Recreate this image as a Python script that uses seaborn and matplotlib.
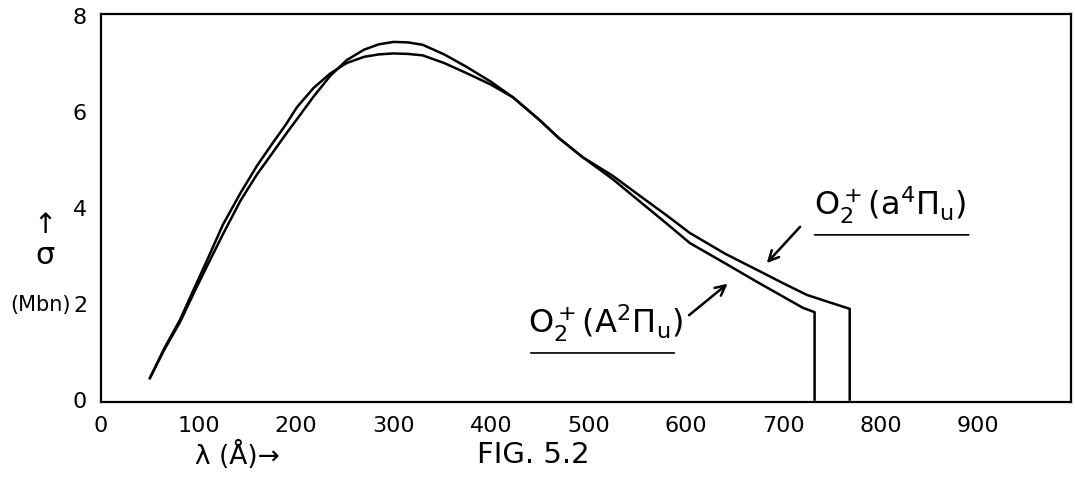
import numpy as np
import pandas as pd
import matplotlib
matplotlib.use("Agg")
import matplotlib.pyplot as plt
import seaborn as sns

# Data (wavelength in Angstrom, cross section in Mb)
lam_a4 = [50, 65, 81, 95, 109, 125, 143, 160, 176, 190, 201, 218, 235, 252, 270, 285, 300, 315,
          330, 352, 375, 400, 423, 450, 470, 494, 525, 553, 580, 604, 640, 673, 700, 724, 748, 768, 768]
sig_a4 = [0.45, 1.05, 1.62, 2.22, 2.80, 3.45, 4.15, 4.70, 5.15, 5.55, 5.85, 6.32, 6.75, 7.08, 7.30, 7.41, 7.46, 7.45,
          7.40, 7.20, 6.94, 6.63, 6.30, 5.83, 5.45, 5.06, 4.67, 4.25, 3.85, 3.48, 3.05, 2.71, 2.43, 2.19, 2.03, 1.90, 0.0]

lam_A2 = [50, 65, 81, 95, 109, 125, 143, 160, 176, 190, 201, 218, 235, 252, 270, 285, 300, 315,
          330, 352, 375, 400, 423, 450, 470, 494, 525, 553, 580, 604, 640, 673, 700, 720, 732, 732]
sig_A2 = [0.45, 1.08, 1.67, 2.30, 2.92, 3.65, 4.31, 4.88, 5.35, 5.75, 6.10, 6.50, 6.80, 7.02, 7.15, 7.20, 7.22, 7.21,
          7.18, 7.02, 6.81, 6.57, 6.30, 5.83, 5.45, 5.06, 4.60, 4.13, 3.68, 3.27, 2.85, 2.46, 2.15, 1.92, 1.83, 0.0]

x_ticks = [0, 100, 200, 300, 400, 500, 600, 700, 800, 900]
y_ticks = [0, 2, 4, 6, 8]

label_a4 = r"$\mathrm{O}_2^+\mathrm{(a^4\Pi_u)}$"
label_A2 = r"$\mathrm{O}_2^+\mathrm{(A^2\Pi_u)}$"

df = pd.concat([
    pd.DataFrame({"lam": lam_a4, "sigma": sig_a4, "state": "a4"}),
    pd.DataFrame({"lam": lam_A2, "sigma": sig_A2, "state": "A2"}),
], ignore_index=True)

sns.set_style("white")
plt.rcParams["font.family"] = ["DejaVu Sans"]
plt.rcParams["text.color"] = "black"
plt.rcParams["mathtext.default"] = "regular"

fig = plt.figure(figsize=(10.75, 4.88), dpi=100)
ax = fig.add_axes([101 / 1075, 1 - 402.4 / 488, 970 / 1075, 388.8 / 488])

sns.lineplot(data=df, x="lam", y="sigma", hue="state", units="state",
             estimator=None, sort=False, palette={"a4": "black", "A2": "black"},
             linewidth=1.8, legend=False, ax=ax)

ax.set_xlim(0, 995)
ax.set_ylim(-0.05, 8.05)
ax.set_xticks(x_ticks)
ax.set_yticks(y_ticks)
ax.set_xticklabels([str(v) for v in x_ticks], fontsize=16, color="black")
ax.set_yticklabels([str(v) for v in y_ticks], fontsize=16, color="black")
ax.tick_params(direction="in", length=8, width=1.6, colors="black", pad=10)
ax.set_xlabel("")
ax.set_ylabel("")
for s in ax.spines.values():
    s.set_visible(True)
    s.set_color("black")
    s.set_linewidth(1.6)

# curve labels with arrows
ax.annotate("", xy=(681, 2.81), xytext=(719, 3.65),
            arrowprops=dict(arrowstyle="->", color="black", lw=1.8, mutation_scale=18))
ax.annotate("", xy=(645, 2.46), xytext=(601, 1.73),
            arrowprops=dict(arrowstyle="->", color="black", lw=1.8, mutation_scale=18))
ax.text(810, 4.06, label_a4, fontsize=23, ha="center", va="center", color="black")
ax.text(517, 1.60, label_A2, fontsize=23, ha="center", va="center", color="black")
# underlines
ax.annotate("", xy=(893, 3.44), xytext=(729, 3.44),
            arrowprops=dict(arrowstyle="-", color="black", lw=1.2))
ax.annotate("", xy=(591, 0.98), xytext=(438, 0.98),
            arrowprops=dict(arrowstyle="-", color="black", lw=1.2))

# axis labels
fig.text(45 / 1075, 1 - 225 / 488, "↑", fontsize=20, ha="center", va="center")
fig.text(45 / 1075, 1 - 255 / 488, "σ", fontsize=22, ha="center", va="center")
fig.text(40 / 1075, 1 - 305 / 488, "(Mbn)", fontsize=15, ha="center", va="center")
fig.text(237 / 1075, 1 - 455 / 488, "λ (Å)→", fontsize=19, ha="center", va="center")
fig.text(533 / 1075, 1 - 455 / 488, "FIG. 5.2", fontsize=21, ha="center", va="center")

fig.savefig("out.png", dpi=100, facecolor="white")
